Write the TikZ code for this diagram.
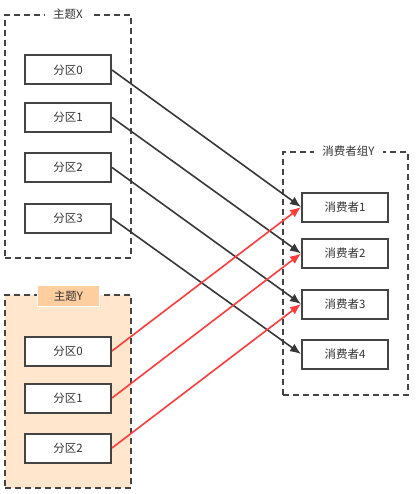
\documentclass[tikz,border=0pt]{standalone}
\usepackage{fontspec}
\setmainfont{Noto Sans CJK SC}
\usepackage{tikz}
\usepackage{xcolor}
\usetikzlibrary{positioning,arrows.meta}
\definecolor{boxline}{HTML}{444444}
\definecolor{peach}{HTML}{FFE6CC}
\definecolor{tagorange}{HTML}{FFCE9F}
\definecolor{linkred}{HTML}{FF3B3B}

\begin{document}
\begin{tikzpicture}[x=1pt, y=-1pt, font=\fontsize{11.5}{13}\selectfont, text=black!80]
    \tikzstyle{group}=[draw=boxline, line width=1.5pt, dash pattern=on 6pt off 4pt, inner sep=0pt]
	\tikzstyle{part}=[rectangle, draw=boxline, line width=2pt, fill=white, minimum width=86pt, minimum height=29pt, inner sep=0pt]
	\tikzstyle{consumer}=[part]
	\tikzstyle{tag}=[fill=white, inner xsep=8pt, inner ysep=3pt]
    \tikzstyle{edge} = [-{Latex[length=11pt,width=9pt]}, line width=1.6pt, draw=black!78]
    \tikzstyle{rededge} = [edge, draw=linkred]

    \useasboundingbox (0,0) rectangle (418,494);

    % groups
    \node[group, minimum width=126pt, minimum height=243pt] (topicX) at (68,136.5) {};
    \node[group, fill=peach, minimum width=126pt, minimum height=193pt] (topicY) at (68,391.5) {};
    \node[group, minimum width=125pt, minimum height=243pt] (groupY) at (345.5,273.5) {};

    \node[tag] (tagX) at (topicX.north) {主题X};
    \node[tag, fill=tagorange, draw=white, line width=1pt, minimum width=62pt, minimum height=21pt] (tagY) at (68.5,296) {主题Y};
    \node[tag] (tagG) at ([xshift=3pt]groupY.north) {消费者组Y};

    % partitions of topic X
    \node[part] (px0) at (68,70) {分区0};
    \node[part] (px1) at (68,117.5) {分区1};
    \node[part] (px2) at (68,167.5) {分区2};
    \node[part] (px3) at (68,218.5) {分区3};

    % partitions of topic Y
    \node[part] (py0) at (68,351) {分区0};
    \node[part] (py1) at (68,398) {分区1};
    \node[part] (py2) at (68,448) {分区2};

    % consumers
    \node[consumer] (c1) at (345,207) {消费者1};
    \node[consumer] (c2) at (345,253.5) {消费者2};
    \node[consumer] (c3) at (345,304) {消费者3};
    \node[consumer] (c4) at (345,354) {消费者4};

    \draw[edge] (px0.east) -- (c1.west);
    \draw[edge] (px1.east) -- (c2.west);
    \draw[edge] (px2.east) -- (c3.west);
    \draw[edge] (px3.east) -- (c4.west);

    \draw[rededge] (py0.east) -- (c1.west);
    \draw[rededge] (py1.east) -- (c2.west);
    \draw[rededge] (py2.east) -- (c3.west);
\end{tikzpicture}
\end{document}
